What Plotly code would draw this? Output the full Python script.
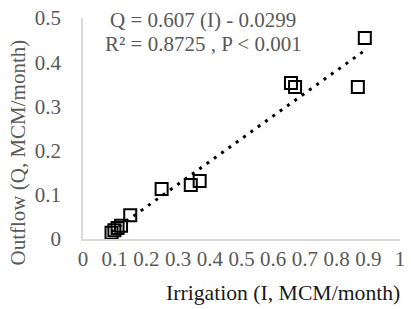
import numpy as np
import plotly.graph_objects as go

irrigation = [0.09, 0.099, 0.109, 0.12, 0.149, 0.248, 0.34, 0.368, 0.656, 0.669, 0.867, 0.889]
outflow = [0.014, 0.02, 0.025, 0.03, 0.054, 0.113, 0.122, 0.131, 0.353, 0.344, 0.344, 0.455]
x_ticks = [0, 0.1, 0.2, 0.3, 0.4, 0.5, 0.6, 0.7, 0.8, 0.9, 1]
x_tick_labels = ["0", "0.1", "0.2", "0.3", "0.4", "0.5", "0.6", "0.7", "0.8", "0.9", "1"]
y_ticks = [0, 0.1, 0.2, 0.3, 0.4, 0.5]
y_tick_labels = ["0", "0.1", "0.2", "0.3", "0.4", "0.5"]
equation_lines = ["Q = 0.607 (I) - 0.0299", "R² = 0.8725 , P < 0.001"]

slope, intercept = np.polyfit(irrigation, outflow, 1)
tx = np.array([min(irrigation), max(irrigation)])
ty = slope * tx + intercept

font = "Liberation Serif, Times New Roman, serif"
fs = 21
fig = go.Figure()
fig.add_trace(go.Scatter(x=tx, y=ty, mode="lines",
                         line=dict(color="black", width=3, dash="3px,6px"),
                         showlegend=False))
fig.add_trace(go.Scatter(x=irrigation, y=outflow, mode="markers",
                         marker=dict(symbol="square-open", size=12, color="black",
                                     line=dict(width=2, color="black")),
                         showlegend=False))
for txt, yy in zip(equation_lines, [0.99, 0.882]):
    fig.add_annotation(x=0.379, y=yy, xref="x", yref="paper", text=txt,
                       showarrow=False, yanchor="middle", xanchor="center",
                       font=dict(family=font, size=fs, color="#595959"))
fig.add_annotation(x=-0.206, y=0.39, xref="paper", yref="paper",
                   text="Outflow (Q, MCM/month)", textangle=-90, showarrow=False,
                   xanchor="center", yanchor="middle",
                   font=dict(family=font, size=fs, color="#595959"))
fig.add_annotation(x=0.63, y=-0.243, xref="paper", yref="paper",
                   text="Irrigation (I, MCM/month)", showarrow=False,
                   xanchor="center", yanchor="middle",
                   font=dict(family=font, size=21.7, color="#1a1a1a"))
fig.update_layout(
    width=411, height=309,
    margin=dict(l=83, r=6, t=17, b=70),
    plot_bgcolor="white", paper_bgcolor="white",
    font=dict(family=font, size=fs, color="#595959"),
    xaxis=dict(range=[0, 1], tickvals=x_ticks, ticktext=x_tick_labels,
               showgrid=False, zeroline=False, showline=True, linecolor="#d9d9d9",
               linewidth=1.5, ticks=""),
    yaxis=dict(range=[0, 0.5], tickvals=y_ticks, ticktext=y_tick_labels,
               showgrid=False, zeroline=False, showline=True, linecolor="#d9d9d9",
               linewidth=1.5, ticks="outside", ticklen=16, tickcolor="rgba(0,0,0,0)"),
)
fig.write_html("out.html", config={"displayModeBar": False},
               post_script="document.body.style.margin='0';")
